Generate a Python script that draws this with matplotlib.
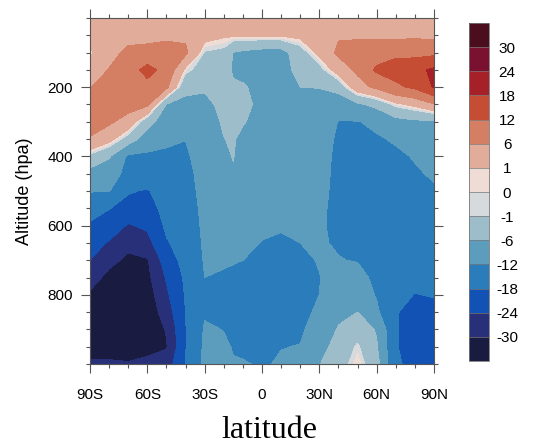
import numpy as np
import matplotlib
matplotlib.use("Agg")
import matplotlib.pyplot as plt
from matplotlib.ticker import MultipleLocator

# pressure levels (hPa) and latitudes of the grid
plev = [0, 50, 100, 150, 200, 250, 300, 350, 400, 450, 500,
        550, 600, 650, 700, 750, 800, 850, 900, 950, 1000]
lats = [-90, -80, -70, -60, -50, -40, -30, -20, -15, -10, 0,
        10, 20, 30, 40, 50, 60, 70, 80, 90]

# one profile per latitude, top (0 hPa) to bottom (1000 hPa)
lat_90s = [4, 3, 0.3, 3, 5.8, 8, 8, 5.6, -2, -8, -11.8, -15, -19, -22, -24, -27, -31, -34, -36, -35, -28]
lat_80s = [4, 4, 4.5, 6.2, 8.5, 9, 6.8, 2.5, -5.5, -9, -11.8, -17.8, -21, -24.5, -28, -32, -35, -37, -38, -36, -28]
lat_70s = [4, 4.5, 7, 9, 9, 8, 4, -3, -13, -14, -17.5, -20, -24.5, -28, -31.5, -34, -37, -38, -38, -36, -29]
lat_60s = [4, 4.5, 7.5, 14, 10, 7, -4, -9, -13, -14, -18.5, -20.5, -23, -26, -30.5, -31.5, -33, -34, -35, -34, -27]
lat_50s = [4, 5, 8, 10, 7, -6.2, -9, -11, -13, -14, -15, -16, -17, -18.5, -21, -23.5, -25, -27, -29.5, -30.5, -27]
lat_40s = [4, 5, 7, 0, -5, -7, -9, -11.9, -13, -14, -14.5, -15, -15, -15.5, -16, -17, -17.5, -18, -18.2, -18.2, -18]
lat_30s = [4, 2.5, -1.3, -3, -5.5, -7, -8, -8.5, -9, -9.5, -10, -10.5, -11, -11.3, -11.6, -12, -12.8, -12.5, -11.5, -11, -11]
lat_20s = [4, 1.5, -2, -4.5, -5.5, -5, -5.5, -6.1, -7, -8, -9, -10, -10.5, -11, -11.7, -12.3, -12.8, -12.6, -12.1, -11.5, -11.5]
lat_15s = [4, 1.5, -6.2, -6.5, -5.5, -5, -5.2, -5.5, -5.8, -6.5, -8.5, -9.5, -10.3, -11, -11.8, -12.6, -13, -13, -12.6, -12.2, -11.8]
lat_10s = [4, 1.5, -7, -7.5, -5.5, -4, -5.5, -7.5, -8.5, -9, -9.5, -10, -10.5, -11.2, -12, -13, -13.5, -13.5, -13.2, -12.8, -11.7]
lat_eq = [4, 1.5, -8, -7, -7.5, -8, -8.5, -9, -9.5, -10, -10.5, -11, -11.5, -12.1, -12.6, -12.8, -12.8, -12.7, -12.5, -12.3, -12.4]
lat_10n = [4, 1.5, -8, -8.5, -8.5, -8.5, -9, -9.5, -10, -10.5, -11, -11.5, -11.8, -12.3, -13, -13.3, -13.3, -13.2, -13, -12.1, -11.6]
lat_20n = [4, 2, -3, -4, -6, -7.5, -8.5, -9, -9.5, -10, -10.5, -11, -11.5, -12, -12.7, -13, -13, -12.8, -12.5, -11.9, -11]
lat_30n = [4, 3, 2, -2.5, -5.9, -7.5, -8.5, -9, -9.5, -10, -10.5, -11, -11.3, -11.5, -11.8, -12.1, -12, -11.5, -10.5, -8, -6.2]
lat_40n = [4, 5.5, 7, 3, -4, -9.5, -12.2, -13, -13.5, -13.5, -13.5, -13.5, -13.3, -12.5, -11.8, -10.5, -9, -7.5, -5.5, -4, -3]
lat_50n = [4, 5.5, 7.5, 7, 4, -7, -12.2, -13, -13.5, -14, -14, -14, -14, -13.5, -12.3, -10, -8, -6, -3, -0.5, 0.8]
lat_60n = [4, 5, 9, 13, 7, -4.5, -11, -12.5, -13.5, -14, -14.5, -14.5, -14.5, -14.5, -14, -13.5, -12.5, -11, -6.5, -5.5, -4]
lat_70n = [4, 4.5, 11, 14, 11, 0, -8, -11.5, -12.8, -13.5, -14, -14.5, -15, -15.5, -16, -16.5, -17.5, -17.8, -17.8, -17.8, -17.5]
lat_80n = [4, 5, 10, 16.5, 13, 2, -7, -10, -11.7, -12.5, -13, -14, -15, -16, -17, -17.6, -18.05, -19, -19.5, -19.5, -19]
lat_90n = [4, 4.5, 10.5, 19, 18.5, 5.5, -7, -9.5, -10.5, -11.5, -12.5, -13.5, -14.5, -15.5, -16.5, -17.3, -17.9, -18.5, -19, -19, -18.5]

levels = [-30, -24, -18, -12, -6, -1, 0, 1, 6, 12, 18, 24, 30]
level_labels = ["-30", "-24", "-18", "-12", "-6", "-1", "0", "1", "6", "12", "18", "24", "30"]
colors = ["#1a1b41", "#29307a", "#1252b5", "#2b7cbb", "#5c9dbd", "#9dbdca", "#d6dadc",
          "#efdcd5", "#e1ac9a", "#d47f64", "#c44d33", "#a62028", "#7b1130", "#4a0e1e"]

xticks = [-90, -60, -30, 0, 30, 60, 90]
xticklabels = ["90S", "60S", "30S", "0", "30N", "60N", "90N"]
yticks = [200, 400, 600, 800]

field = np.column_stack([lat_90s, lat_80s, lat_70s, lat_60s, lat_50s, lat_40s, lat_30s,
                         lat_20s, lat_15s, lat_10s, lat_eq, lat_10n, lat_20n, lat_30n,
                         lat_40n, lat_50n, lat_60n, lat_70n, lat_80n, lat_90n])

plt.rcParams["font.family"] = ["Liberation Sans", "DejaVu Sans"]

fig = plt.figure(figsize=(5.41, 4.48), dpi=100)
ax = fig.add_axes([90 / 541, 1 - 364 / 448, 344 / 541, 346 / 448])
cs = ax.contourf(lats, plev, field, levels=levels, colors=colors, extend="both")

ax.set_xlim(-90, 90)
ax.set_ylim(1000, 0)
ax.set_xticks(xticks)
ax.set_xticklabels(xticklabels)
ax.set_yticks(yticks)
ax.xaxis.set_minor_locator(MultipleLocator(10))
ax.yaxis.set_minor_locator(MultipleLocator(50))
ax.tick_params(which="both", direction="out", top=True, right=True, color="#555555", width=0.8)
ax.tick_params(which="major", length=6.5, labelsize=11)
ax.tick_params(axis="x", which="major", pad=10.5)
ax.tick_params(axis="y", which="major", pad=6)
ax.tick_params(which="minor", length=3)
for s in ax.spines.values():
    s.set_color("#555555")
    s.set_linewidth(0.8)

ax.set_ylabel("Altitude (hpa)", fontsize=13, labelpad=10.5)
ax.set_xlabel("latitude", fontsize=23, family=["Liberation Serif", "DejaVu Serif"],
              labelpad=10, x=0.52)

cax = fig.add_axes([469 / 541, 1 - 361 / 448, 20 / 541, 338 / 448])
cb = fig.colorbar(cs, cax=cax, extendrect=True, extendfrac=1 / 12, drawedges=True)
cb.set_ticks(levels)
cb.set_ticklabels(level_labels)
cb.ax.tick_params(length=0, labelsize=11, pad=13)
for t in cb.ax.get_yticklabels():
    t.set_horizontalalignment("center")
cb.outline.set_edgecolor("#777777")
cb.outline.set_linewidth(0.6)
cb.dividers.set_color("#777777")
cb.dividers.set_linewidth(0.5)

fig.savefig("out.png", dpi=100)
